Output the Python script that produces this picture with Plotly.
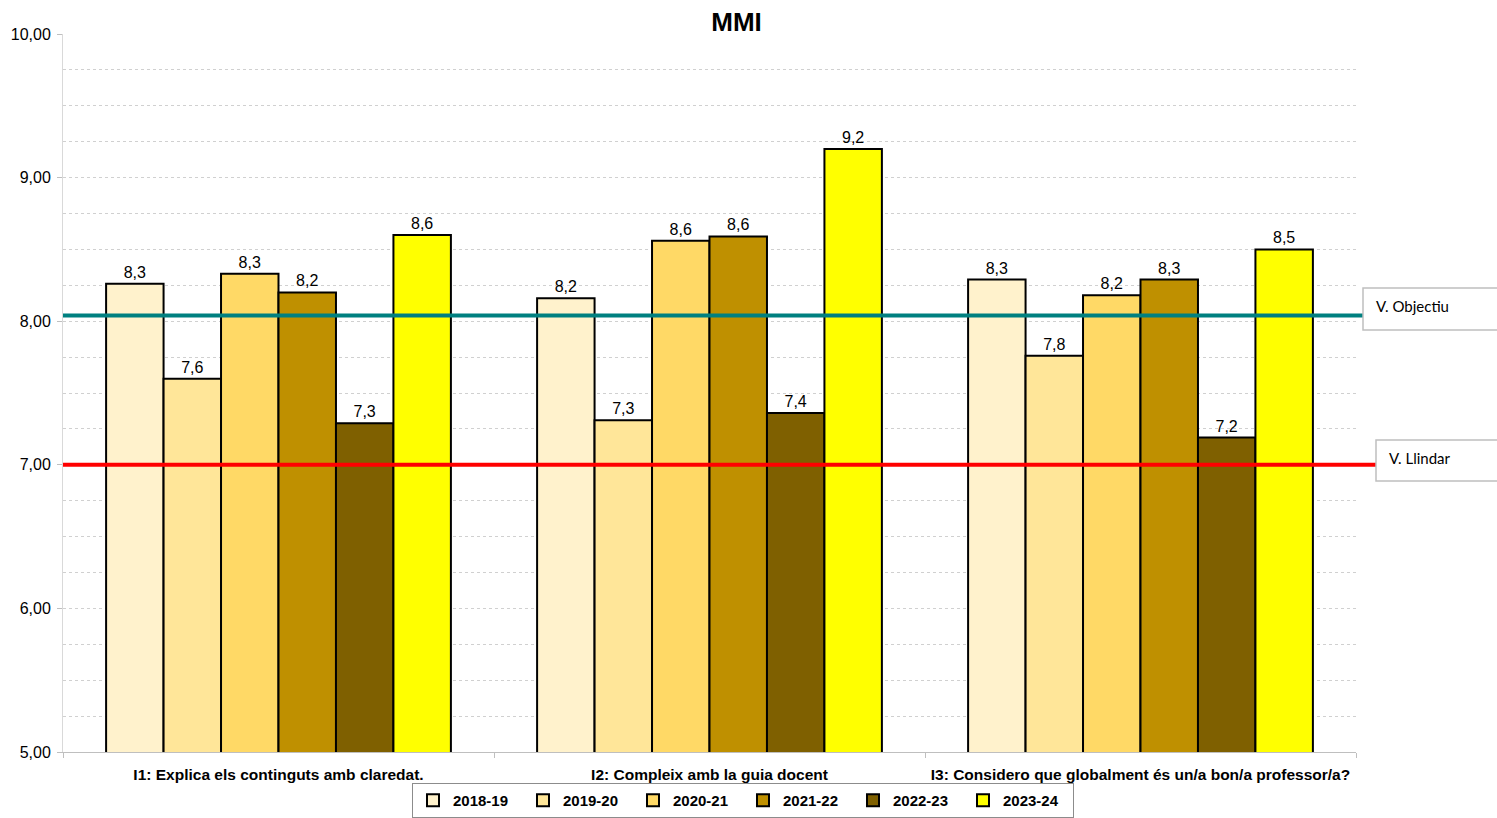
import plotly.graph_objects as go

categories = ["I1: Explica els continguts amb claredat.",
              "I2: Compleix amb la guia docent",
              "I3: Considero que globalment és un/a bon/a professor/a?"]
series_names = ["2018-19", "2019-20", "2020-21", "2021-22", "2022-23", "2023-24"]
values = {
    "2018-19": [8.26, 8.16, 8.29],
    "2019-20": [7.60, 7.31, 7.76],
    "2020-21": [8.33, 8.56, 8.18],
    "2021-22": [8.20, 8.59, 8.29],
    "2022-23": [7.29, 7.36, 7.19],
    "2023-24": [8.60, 9.20, 8.50],
}
colors = ["#FFF2CC", "#FFE699", "#FFD966", "#BF9000", "#7F6000", "#FFFF00"]
objectiu = 8.04
llindar = 7.0
y_range = [5, 10]

FONT = "Liberation Sans, Arial, sans-serif"

fig = go.Figure()
for name, col in zip(series_names, colors):
    vals = values[name]
    labels = [f"{v:.1f}".replace(".", ",") for v in vals]
    fig.add_trace(go.Bar(
        name=name, x=categories, y=vals,
        marker=dict(color=col, line=dict(color="black", width=2)),
        text=labels,
        textposition="outside",
        constraintext="none",
        textfont=dict(family=FONT, size=16, color="black"),
        outsidetextfont=dict(family=FONT, size=16, color="black"),
        cliponaxis=False,
    ))

# plot area pixel geometry (for paper coords)
L, R, T, B = 63, 1356, 34, 752
W = R - L
FIG_W, FIG_H = 1497, 818

def px2paper(x):
    return (x - L) / W

fig.add_shape(type="line", xref="paper", yref="y", x0=0, x1=px2paper(1363),
              y0=objectiu, y1=objectiu, line=dict(color="#008080", width=4))
fig.add_shape(type="line", xref="paper", yref="y", x0=0, x1=px2paper(1376),
              y0=llindar, y1=llindar, line=dict(color="#FF0000", width=4))

unit = (B - T) / (y_range[1] - y_range[0])
def py2y(py):
    return y_range[0] + (B - py) / unit

fig.add_shape(type="rect", xref="paper", yref="y", x0=px2paper(1363), x1=px2paper(1600),
              y0=py2y(330), y1=py2y(288), line=dict(color="#BFBFBF", width=1.5),
              fillcolor="white")
fig.add_shape(type="rect", xref="paper", yref="y", x0=px2paper(1376), x1=px2paper(1600),
              y0=py2y(481), y1=py2y(440), line=dict(color="#BFBFBF", width=1.5),
              fillcolor="white")
fig.add_annotation(text="V. Objectiu", xref="paper", yref="y", x=px2paper(1374),
                   y=py2y(306), xanchor="left", yanchor="middle", showarrow=False,
                   font=dict(family="Lato, Liberation Sans, sans-serif", size=15, color="black"))
fig.add_annotation(text="V. Llindar", xref="paper", yref="y", x=px2paper(1387),
                   y=py2y(458), xanchor="left", yanchor="middle", showarrow=False,
                   font=dict(family="Lato, Liberation Sans, sans-serif", size=15, color="black"))

fig.update_layout(
    width=FIG_W, height=FIG_H,
    margin=dict(l=L, r=FIG_W - R, t=T, b=FIG_H - B),
    paper_bgcolor="white", plot_bgcolor="white",
    separators=",.",
    barmode="group", bargap=0.2, bargroupgap=0,
    title=dict(text="<b>MMI</b>", x=0.492, xref="container", y=1 - 22 / FIG_H,
               yref="container", xanchor="center", yanchor="middle",
               font=dict(family=FONT, size=26, color="black")),
    font=dict(family=FONT, color="black"),
    showlegend=True,
    legend=dict(orientation="h", x=743 / FIG_W, xref="container", xanchor="center",
                y=1 - 783 / FIG_H, yref="container", yanchor="top",
                bordercolor="#8C8C8C", borderwidth=1, bgcolor="white",
                font=dict(family=FONT, size=15, color="black", weight="bold"),
                itemwidth=30, entrywidth=65, entrywidthmode="pixels",
                traceorder="normal"),
    xaxis=dict(type="category", tickson="boundaries", ticks="outside", ticklen=5,
               tickcolor="#BFBFBF", showline=True, linecolor="#BFBFBF", linewidth=1,
               showgrid=False, automargin=False, ticklabelstandoff=8,
               tickfont=dict(family=FONT, size=15.5, color="black", weight="bold")),
    yaxis=dict(range=y_range, dtick=1, tickformat=".2f", ticks="outside", ticklen=5,
               tickcolor="#BFBFBF", showline=True, linecolor="#D9D9D9", linewidth=1,
               showgrid=True, gridcolor="#D0D0D0", griddash="dot", gridwidth=1,
               minor=dict(dtick=0.25, showgrid=True, gridcolor="#D0D0D0", griddash="dot",
                          gridwidth=1),
               zeroline=False, automargin=False, ticklabelstandoff=3,
               tickfont=dict(family=FONT, size=16, color="black")),
)

fig.write_html("out.html", config={"displayModeBar": False},
               post_script="document.body.style.margin='0';")
